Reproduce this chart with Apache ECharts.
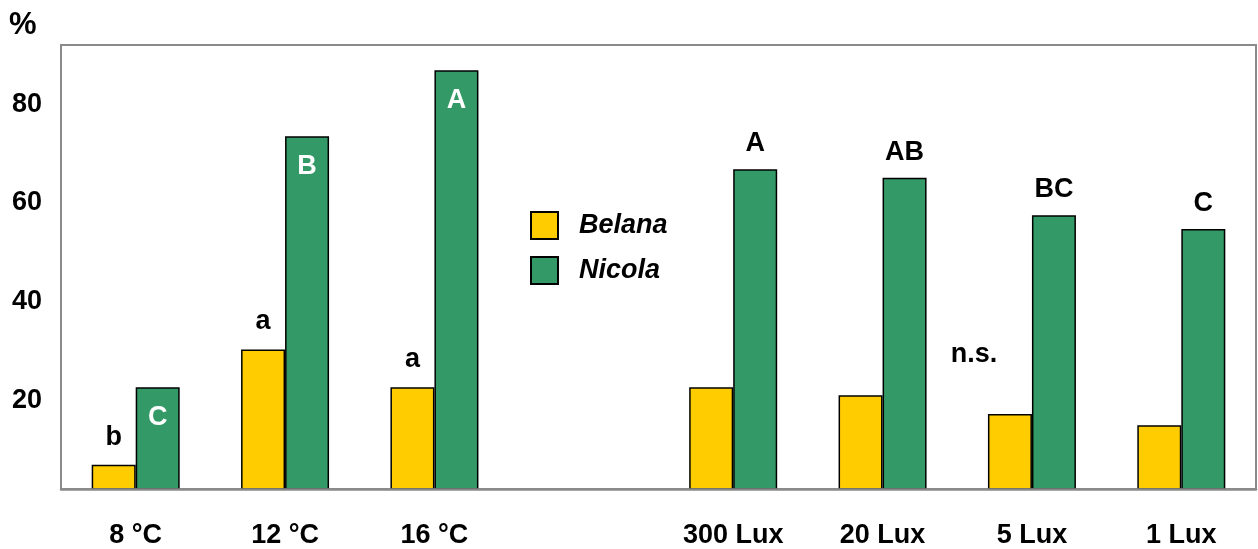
<!DOCTYPE html>
<html>
<head>
<meta charset="utf-8">
<script src="https://cdn.jsdelivr.net/npm/echarts@6/dist/echarts.min.js"></script>
<style>html,body{margin:0;padding:0;background:#fff}#c{width:1258px;height:549px}</style>
</head>
<body>
<div id="c"></div>
<script>
const categories = ['8 °C', '12 °C', '16 °C', '', '300 Lux', '20 Lux', '5 Lux', '1 Lux'];
const belana = [6.9, 30.3, 22.6, null, 22.6, 21.0, 17.2, 14.9];
const nicola = [22.6, 73.5, 86.9, null, 66.8, 65.1, 57.5, 54.7];
const belanaLetters = ['b', 'a', 'a', '', '', '', 'n.s.', ''];
const nicolaLetters = ['C', 'B', 'A', '', 'A', 'AB', 'BC', 'C'];
const yTicks = [20, 40, 60, 80];

const FONT = '"Liberation Sans", Arial, sans-serif';
const chart = echarts.init(document.getElementById('c'));

const belanaData = belana.map((v, i) => {
  const d = { value: v };
  if (belanaLetters[i] === 'n.s.') {
    d.label = { show: true, formatter: 'n.s.', position: 'top', distance: 15, offset: [-36, -31] };
  } else if (belanaLetters[i]) {
    d.label = { show: true, formatter: belanaLetters[i], position: 'top', distance: 14 };
  }
  return d;
});
const nicolaData = nicola.map((v, i) => {
  const d = { value: v };
  if (nicolaLetters[i]) {
    if (i < 3) {
      d.label = { show: true, formatter: nicolaLetters[i], position: 'insideTop', distance: 17, color: '#fff' };
    } else {
      d.label = { show: true, formatter: nicolaLetters[i], position: 'top', distance: 12 };
    }
  }
  return d;
});

const labelBase = { show: false, fontFamily: FONT, fontWeight: 'bold', fontSize: 27, color: '#000' };

chart.setOption({
  animation: false,
  backgroundColor: '#fff',
  title: {
    text: '%', left: 4, top: 5,
    textStyle: { fontFamily: FONT, fontWeight: 'bold', fontSize: 31, color: '#000' }
  },
  legend: {
    orient: 'vertical', left: 525, top: 206, itemWidth: 27, itemHeight: 27, itemGap: 16,
    icon: 'rect',
    textStyle: { fontFamily: FONT, fontWeight: 'bold', fontStyle: 'italic', fontSize: 27, color: '#000', padding: [0, 0, 0, 16] },
    data: ['Belana', 'Nicola']
  },
  grid: {
    left: 61, right: 2, top: 45, bottom: 58,
    show: true, borderColor: '#8a8a8a', borderWidth: 2, backgroundColor: 'transparent'
  },
  xAxis: {
    type: 'category', data: categories, z: 5,
    axisLine: { show: true, lineStyle: { color: '#8a8a8a', width: 2.5 } },
    axisTick: { show: false },
    axisLabel: { fontFamily: FONT, fontWeight: 'bold', fontSize: 27, color: '#000', margin: 33, interval: 0 }
  },
  yAxis: {
    type: 'value', min: 2, max: 92,
    splitLine: { show: false },
    axisLine: { show: false },
    axisTick: { show: false },
    axisLabel: { customValues: yTicks, fontFamily: FONT, fontWeight: 'bold', fontSize: 27, color: '#000', margin: 19 }
  },
  series: [
    {
      name: 'Belana', type: 'bar', data: belanaData, barWidth: 44, barGap: '0%', clip: true,
      itemStyle: { color: '#FFCC00', borderColor: '#000', borderWidth: 1.5 },
      label: labelBase
    },
    {
      name: 'Nicola', type: 'bar', data: nicolaData, barWidth: 44, barGap: '0%', clip: true,
      itemStyle: { color: '#339966', borderColor: '#000', borderWidth: 1.5 },
      label: labelBase
    }
  ]
});
</script>
</body>
</html>
